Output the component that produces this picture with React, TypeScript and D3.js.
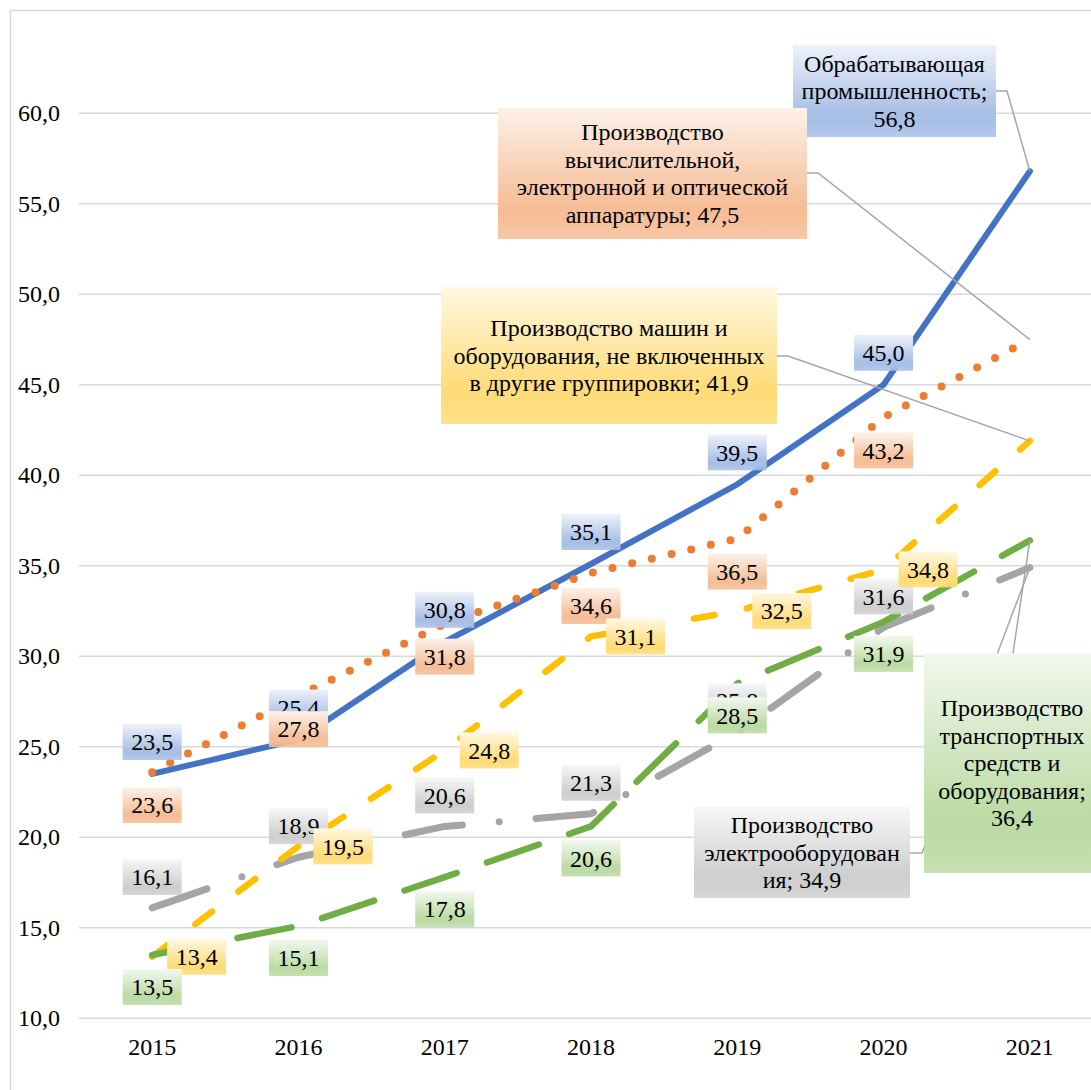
import React from 'react';
import * as d3 from 'd3';

const years = ['2015', '2016', '2017', '2018', '2019', '2020', '2021'];
const manufacturing = [23.5, 25.4, 30.8, 35.1, 39.5, 45.0, 56.8];
const electronics = [23.6, 27.8, 31.8, 34.6, 36.5, 43.2, 47.5];
const electrical = [16.1, 18.9, 20.6, 21.3, 25.8, 31.6, 34.9];
const machinery = [13.4, 19.5, 24.8, 31.1, 32.5, 34.8, 41.9];
const transport = [13.5, 15.1, 17.8, 20.6, 28.5, 31.9, 36.4];
const yTicks = [10, 15, 20, 25, 30, 35, 40, 45, 50, 55, 60];

const nameManufacturing = ['Обрабатывающая', 'промышленность;', '{v}'];
const nameElectronics = ['Производство', 'вычислительной,', 'электронной и оптической', 'аппаратуры; {v}'];
const nameElectrical = ['Производство', 'электрооборудован', 'ия; {v}'];
const nameMachinery = ['Производство машин и', 'оборудования, не включенных', 'в другие группировки; {v}'];
const nameTransport = ['Производство', 'транспортных', 'средств и', 'оборудования;', '{v}'];

const W = 1091;
const H = 1090;
const FONT = "'Liberation Serif', 'Times New Roman', Tinos, 'DejaVu Serif', serif";
const FS = 24;

const fmt = (v: number) => d3.format('.1f')(v).replace('.', ',');

type Series = {
  key: string;
  values: number[];
  name: string[];
  color: string;
  width: number;
  dash?: string;
  c0: string;
  c1: string;
  lab: { dx: number; dy: number };
  big: { cx: number; cy: number; w: number; h: number; leader: [number, number][] };
};

// drawing order
const series: Series[] = [
  {
    key: 'blue', values: manufacturing, name: nameManufacturing, color: '#4472C4', width: 6,
    c0: '#eef2fa', c1: '#a8bfe6', lab: { dx: 0, dy: -32 },
    big: { cx: 894.5, cy: 91, w: 203, h: 92, leader: [[996, 91], [1007, 91]] },
  },
  {
    key: 'orange', values: electronics, name: nameElectronics, color: '#ED7D31', width: 8, dash: '0 20.2',
    c0: '#fdf1ea', c1: '#f5be97', lab: { dx: 0, dy: 33 },
    big: { cx: 652.5, cy: 173.5, w: 309, h: 131, leader: [[807, 173], [818, 173]] },
  },
  {
    key: 'gray', values: electrical, name: nameElectrical, color: '#A5A5A5', width: 7, dash: '58 37 0 37',
    c0: '#f7f7f7', c1: '#cfcfcf', lab: { dx: 0, dy: -31 },
    big: { cx: 802, cy: 852.5, w: 216, h: 91, leader: [[910, 853], [922, 853]] },
  },
  {
    key: 'yellow', values: machinery, name: nameMachinery, color: '#FFC000', width: 6.5, dash: '21 33',
    c0: '#fff8e3', c1: '#ffdc7a', lab: { dx: 44.5, dy: 0 },
    big: { cx: 609, cy: 355.5, w: 336, h: 137, leader: [[777, 356], [788, 356]] },
  },
  {
    key: 'green', values: transport, name: nameTransport, color: '#70AD47', width: 6.5, dash: '55 32',
    c0: '#f2f8ee', c1: '#bcdba5', lab: { dx: 0, dy: 32 },
    big: { cx: 1012, cy: 763, w: 176, h: 220, leader: [[1013, 653]] },
  },
];

export default function App() {
  const x = d3.scaleBand<string>().domain(years).range([79, 1103]);
  const xc = (yr: string) => (x(yr) as number) + x.bandwidth() / 2;
  const y = d3.scaleLinear().domain([10, 60]).range([1018.3, 113.3]);

  const line = d3
    .line<number>()
    .x((_, i) => xc(years[i]))
    .y((v) => y(v));

  const labW = 59;
  const labH = 36;
  const lineH = 27.5;
  const ts: React.CSSProperties = { fontFamily: FONT, fontSize: FS };

  return (
    <svg
      width={W}
      height={H}
      style={{ position: 'absolute', left: 0, top: 0, background: '#fff', fontFamily: FONT }}
    >
      <defs>
        {series.map((s) => (
          <linearGradient key={s.key} id={`g-${s.key}`} x1="0" y1="0" x2="0" y2="1">
            <stop offset="0" stopColor={s.c0} />
            <stop offset="0.74" stopColor={s.c1} />
            <stop offset="0.83" stopColor={s.c1} />
            <stop offset="1" stopColor={s.c1} stopOpacity={0.85} />
          </linearGradient>
        ))}
      </defs>
      <rect x={0} y={0} width={W} height={H} fill="#fff" />
      <rect x={10.5} y={10.5} width={1110} height={1110} fill="none" stroke="#d9d9d9" strokeWidth={1.5} />

      {yTicks.map((t) => (
        <line key={t} x1={79} x2={1103} y1={y(t)} y2={y(t)} stroke="#d9d9d9" strokeWidth={1.5} />
      ))}
      {yTicks.map((t) => (
        <text key={'yt' + t} x={60} y={y(t)} dy="0.34em" textAnchor="end" style={ts} fill="#000">
          {fmt(t)}
        </text>
      ))}
      {years.map((yr) => (
        <text key={yr} x={xc(yr)} y={1047} dy="0.34em" textAnchor="middle" style={ts} fill="#000">
          {yr}
        </text>
      ))}

      {series.map((s) => (
        <path
          key={'l' + s.key}
          d={line(s.values) || ''}
          fill="none"
          stroke={s.color}
          strokeWidth={s.width}
          strokeDasharray={s.dash}
          strokeLinecap="round"
          strokeLinejoin="round"
        />
      ))}

      {series.map((s) => {
        const last = s.values.length - 1;
        const pts: [number, number][] = [...s.big.leader, [xc(years[last]), y(s.values[last])]];
        return (
          <polyline
            key={'ld' + s.key}
            points={pts.map((p) => p.join(',')).join(' ')}
            fill="none"
            stroke="#a6a6a6"
            strokeWidth={1.5}
          />
        );
      })}

      {series.map((s) => {
        const last = s.values.length - 1;
        const lines = s.name.map((l) => l.replace('{v}', fmt(s.values[last])));
        const n = lines.length;
        return (
          <g key={'lab' + s.key}>
            {s.values.slice(0, last).map((v, i) => {
              const cx = xc(years[i]) + s.lab.dx;
              const cy = y(v) + s.lab.dy;
              return (
                <g key={i}>
                  <rect x={cx - labW / 2} y={cy - labH / 2} width={labW} height={labH} fill={`url(#g-${s.key})`} />
                  <text x={cx} y={cy} dy="0.34em" textAnchor="middle" style={ts} fill="#000">
                    {fmt(v)}
                  </text>
                </g>
              );
            })}
            <rect
              x={s.big.cx - s.big.w / 2}
              y={s.big.cy - s.big.h / 2}
              width={s.big.w}
              height={s.big.h}
              fill={`url(#g-${s.key})`}
            />
            {lines.map((l, k) => (
              <text
                key={k}
                x={s.big.cx}
                y={s.big.cy + (k - (n - 1) / 2) * lineH}
                dy="0.34em"
                textAnchor="middle"
                style={ts}
                fill="#000"
              >
                {l}
              </text>
            ))}
          </g>
        );
      })}
    </svg>
  );
}
